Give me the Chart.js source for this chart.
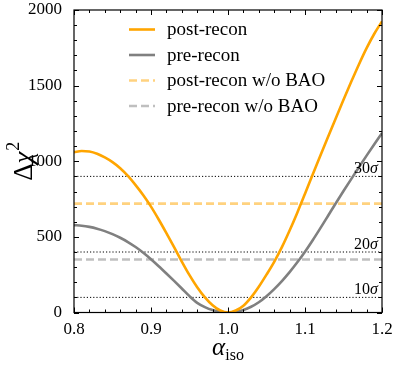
<!DOCTYPE html>
<html>
<head>
<meta charset="utf-8">
<script src="https://cdn.jsdelivr.net/npm/chart.js@4.4.1/dist/chart.umd.min.js"></script>
<style>
  html, body { margin: 0; padding: 0; background: #fff; }
  #wrap { width: 398px; height: 365px; }
</style>
</head>
<body>
<div id="wrap"><canvas id="chart" width="398" height="365"></canvas></div>
<script>
// ── Values ──
const alphaIso = [
  0.80, 0.81, 0.82, 0.83, 0.84, 0.85, 0.86, 0.87, 0.88, 0.89,
  0.90, 0.91, 0.92, 0.93, 0.94, 0.95, 0.96, 0.97, 0.98, 0.99,
  1.00, 1.01, 1.02, 1.03, 1.04, 1.05, 1.06, 1.07, 1.08, 1.09,
  1.10, 1.11, 1.12, 1.13, 1.14, 1.15, 1.16, 1.17, 1.18, 1.19, 1.20
];
const postRecon = [
  1060, 1068, 1065, 1050, 1025, 994, 954, 903, 842, 775,
  700, 615, 525, 432, 337, 247, 167, 100, 48, 13,
  0, 13, 45, 100, 170, 250, 335, 432, 542, 660,
  785, 912, 1038, 1162, 1285, 1406, 1525, 1640, 1748, 1843, 1925
];
const preRecon = [
  578, 574, 566, 554, 538, 518, 494, 466, 433, 395,
  352, 306, 258, 209, 159, 108, 64, 36, 16, 4,
  0, 4, 17, 38, 68, 108, 155, 208, 267, 332,
  402, 478, 558, 640, 722, 803, 882, 960, 1037, 1112, 1186
];
const postNoBao = 720;
const preNoBao  = 350;

const sigmaLevels = [100, 400, 900];
const sigmaLabels = ["10", "20", "30"];

const xTicks = [0.8, 0.9, 1.0, 1.1, 1.2];
const yTicks = [0, 500, 1000, 1500, 2000];

const legendLabels = ["post-recon", "pre-recon", "post-recon w/o BAO", "pre-recon w/o BAO"];

// ── Helpers ──
const SERIF = "'Liberation Serif', 'DejaVu Serif', serif";
const xMin = alphaIso[0];
const xMax = alphaIso[alphaIso.length - 1];

function pairs(xs, ys) {
  return xs.map((x, i) => ({ x, y: ys[i] }));
}

function flatLine(y) {
  return [{ x: xMin, y }, { x: xMax, y }];
}

// ── Datasets ──
const datasets = [
  {
    label: legendLabels[0],
    data: pairs(alphaIso, postRecon),
    borderColor: "#FFA500",
    borderWidth: 2.6,
    cubicInterpolationMode: "monotone",
  },
  {
    label: legendLabels[1],
    data: pairs(alphaIso, preRecon),
    borderColor: "#808080",
    borderWidth: 2.6,
    cubicInterpolationMode: "monotone",
  },
  {
    label: legendLabels[2],
    data: flatLine(postNoBao),
    borderColor: "rgba(255,165,0,0.5)",
    borderWidth: 2.6,
    borderDash: [8, 4],
  },
  {
    label: legendLabels[3],
    data: flatLine(preNoBao),
    borderColor: "rgba(128,128,128,0.5)",
    borderWidth: 2.6,
    borderDash: [8, 4],
  },
];

sigmaLevels.forEach(level => {
  datasets.push({
    label: "",
    data: flatLine(level),
    borderColor: "#000",
    borderWidth: 1,
    borderDash: [1.2, 2],
    sigma: true,
  });
});

// ── Plugin: ticks, frame, sigma labels, legend, axis titles ──
const framePlugin = {
  id: "frame",
  afterDraw(chart) {
    const { ctx, chartArea: a, scales: { x, y } } = chart;
    ctx.save();
    ctx.strokeStyle = "#000";
    ctx.lineWidth = 1;

    ctx.beginPath();
    for (let i = 0; i <= 20; i++) {
      const v = 0.8 + i * 0.02;
      const px = Math.round(x.getPixelForValue(v)) + 0.5;
      const len = i % 5 === 0 ? 5 : 3;
      ctx.moveTo(px, a.bottom); ctx.lineTo(px, a.bottom - len);
      ctx.moveTo(px, a.top);    ctx.lineTo(px, a.top + len);
    }
    for (let i = 0; i <= 20; i++) {
      const v = i * 100;
      const py = Math.round(y.getPixelForValue(v)) + 0.5;
      const len = i % 5 === 0 ? 5 : 3;
      ctx.moveTo(a.left, py);  ctx.lineTo(a.left + len, py);
      ctx.moveTo(a.right, py); ctx.lineTo(a.right - len, py);
    }
    ctx.stroke();

    ctx.lineWidth = 1.2;
    ctx.strokeRect(a.left, a.top, a.right - a.left, a.bottom - a.top);

    // sigma labels
    ctx.fillStyle = "#000";
    ctx.textBaseline = "alphabetic";
    sigmaLevels.forEach((level, i) => {
      const py = y.getPixelForValue(level) - 3;
      ctx.font = "italic 16px " + SERIF;
      const sw = ctx.measureText("σ").width;
      ctx.textAlign = "right";
      ctx.fillText("σ", a.right - 4, py);
      ctx.font = "16px " + SERIF;
      ctx.fillText(sigmaLabels[i], a.right - 4 - sw, py);
    });

    // legend
    const rows = chart.data.datasets.filter(d => !d.sigma);
    ctx.font = "19px " + SERIF;
    ctx.textAlign = "left";
    ctx.textBaseline = "middle";
    rows.forEach((d, i) => {
      const ly = a.top + 19.5 + i * 25.5;
      ctx.save();
      ctx.strokeStyle = d.borderColor;
      ctx.lineWidth = d.borderWidth;
      ctx.setLineDash(d.borderDash || []);
      ctx.beginPath();
      ctx.moveTo(a.left + 55, ly);
      ctx.lineTo(a.left + 81, ly);
      ctx.stroke();
      ctx.restore();
      ctx.fillText(d.label, a.left + 93, ly + 1);
    });

    // y title: Δχ²
    ctx.save();
    ctx.translate(23, (a.top + a.bottom) / 2);
    ctx.rotate(-Math.PI / 2);
    ctx.textBaseline = "alphabetic";
    ctx.textAlign = "left";
    ctx.font = "27px " + SERIF;
    const w1 = ctx.measureText("Δ").width;
    ctx.font = "italic 27px " + SERIF;
    const w2 = ctx.measureText("χ").width;
    ctx.font = "18px " + SERIF;
    const w3 = ctx.measureText("2").width;
    const sx = -(w1 + w2 + w3 + 1) / 2;
    ctx.font = "27px " + SERIF;
    ctx.fillText("Δ", sx, 9);
    ctx.font = "italic 27px " + SERIF;
    ctx.fillText("χ", sx + w1, 9);
    ctx.font = "18px " + SERIF;
    ctx.fillText("2", sx + w1 + w2 + 1, -4);
    ctx.restore();

    // x title: α_iso
    ctx.save();
    ctx.textBaseline = "alphabetic";
    ctx.textAlign = "left";
    ctx.font = "italic 25px " + SERIF;
    const aw = ctx.measureText("α").width;
    ctx.font = "16px " + SERIF;
    const iw = ctx.measureText("iso").width;
    const cx = (a.left + a.right) / 2 - (aw + iw) / 2;
    ctx.font = "italic 25px " + SERIF;
    ctx.fillText("α", cx, 355);
    ctx.font = "16px " + SERIF;
    ctx.fillText("iso", cx + aw, 360);
    ctx.restore();

    ctx.restore();
  },
};

new Chart(document.getElementById("chart"), {
  type: "line",
  data: { datasets },
  options: {
    responsive: false,
    animation: false,
    devicePixelRatio: 1,
    layout: { padding: { top: 10, right: 16, left: 0, bottom: 0 } },
    elements: { point: { radius: 0 } },
    plugins: { legend: { display: false }, tooltip: { enabled: false } },
    scales: {
      x: {
        type: "linear",
        min: xMin,
        max: xMax,
        grid: { display: false },
        border: { display: false },
        afterBuildTicks: s => { s.ticks = xTicks.map(v => ({ value: v })); },
        afterFit: s => {
          s.height = 52.5;
          s.paddingLeft = 0;
          s.paddingRight = 0;
        },
        ticks: {
          color: "#000",
          font: { family: SERIF, size: 17 },
          padding: -1,
          maxRotation: 0,
          callback: v => Number(v).toFixed(1),
        },
      },
      y: {
        min: 0,
        max: 2000,
        grid: { display: false },
        border: { display: false },
        afterBuildTicks: s => { s.ticks = yTicks.map(v => ({ value: v })); },
        afterFit: s => {
          s.width = 74;
          s.paddingTop = 0;
          s.paddingBottom = 0;
        },
        ticks: {
          color: "#000",
          font: { family: SERIF, size: 17 },
          padding: 4,
          callback: v => String(v),
        },
      },
    },
  },
  plugins: [framePlugin],
});
</script>
</body>
</html>
